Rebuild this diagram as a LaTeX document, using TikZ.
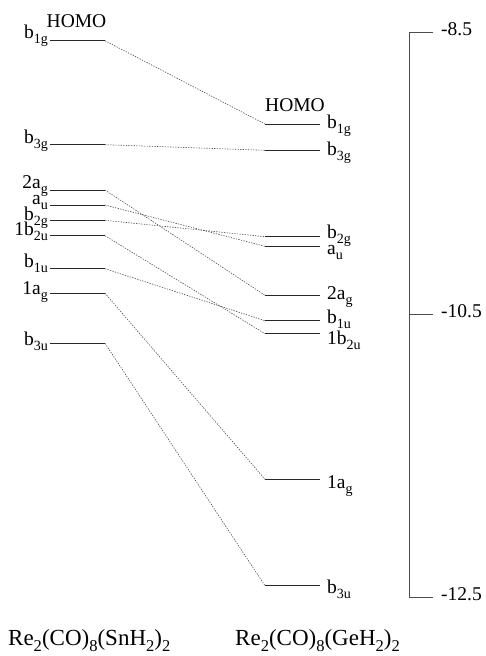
\documentclass[tikz,border=0pt]{standalone}
\usepackage{fontspec}
\usepackage{graphicx}
\setmainfont{Liberation Serif}
% lowered, reduced subscript used in the orbital labels
\newcommand{\lowsub}[1]{\raisebox{-0.28em}{\scalebox{0.72}{#1}}}
\tikzset{
  level/.style={line width=0.9pt, black!85},
  link/.style={line width=0.6pt, black!70, dash pattern=on 1.3pt off 1.3pt},
  axisline/.style={line width=0.9pt, black!70},
  lbl/.style={inner sep=0pt, font=\fontsize{19.5}{22}\selectfont},
  llbl/.style={lbl, anchor=base east},
  rlbl/.style={lbl, anchor=base west},
  molname/.style={inner sep=0pt, anchor=base west, font=\fontsize{23}{26}\selectfont},
}
\begin{document}
\begin{tikzpicture}[x=1pt, y=-1pt]
\useasboundingbox (0,0) rectangle (485,656);

% Re2(CO)8(SnH2)2 levels (left column)
\foreach \n/\yy in {b1g/40.7, b3g/144.7, 2ag/190, au/205, b2g/220.3, 1b2u/235.7, b1u/268.7, 1ag/293.3, b3u/343.3}{
  \coordinate (L-\n-a) at (50,\yy);
  \coordinate (L-\n-b) at (105,\yy);
  \draw[level] (L-\n-a) -- (L-\n-b);
}
% Re2(CO)8(GeH2)2 levels (right column)
\foreach \n/\yy in {b1g/124, b3g/150.3, b2g/236.7, au/246.3, 2ag/295.3, b1u/320.7, 1b2u/333.7, 1ag/479.3, b3u/585.7}{
  \coordinate (R-\n-a) at (265,\yy);
  \coordinate (R-\n-b) at (320,\yy);
  \draw[level] (R-\n-a) -- (R-\n-b);
}
% correlation lines
\foreach \n in {b1g, b3g, 2ag, au, b2g, 1b2u, b1u, 1ag, b3u}{
  \draw[link] (L-\n-b) -- (R-\n-a);
}

% left labels
\node[llbl] (lt-b1g)  at (48,38)  {b\lowsub{1g}};
\node[llbl] (lt-b3g)  at (48,143) {b\lowsub{3g}};
\node[llbl] (lt-2ag)  at (48,188.5) {2a\lowsub{g}};
\node[llbl] (lt-au)   at (48,204) {a\lowsub{u}};
\node[llbl] (lt-b2g)  at (48,220) {b\lowsub{2g}};
\node[llbl] (lt-1b2u) at (48,235.5) {1b\lowsub{2u}};
\node[llbl] (lt-b1u)  at (48,267) {b\lowsub{1u}};
\node[llbl] (lt-1ag)  at (48,294) {1a\lowsub{g}};
\node[llbl] (lt-b3u)  at (48,345) {b\lowsub{3u}};
\node[lbl, anchor=base west] (lt-homo) at (46.5,27) {HOMO};

% right labels
\node[rlbl] (rt-b1g)  at (327,128.5) {b\lowsub{1g}};
\node[rlbl] (rt-b3g)  at (327,155)   {b\lowsub{3g}};
\node[rlbl] (rt-b2g)  at (327,238.5) {b\lowsub{2g}};
\node[rlbl] (rt-au)   at (327,254)   {a\lowsub{u}};
\node[rlbl] (rt-2ag)  at (327,299.5) {2a\lowsub{g}};
\node[rlbl] (rt-b1u)  at (327,323.5) {b\lowsub{1u}};
\node[rlbl] (rt-1b2u) at (327,344)   {1b\lowsub{2u}};
\node[rlbl] (rt-1ag)  at (327,488)   {1a\lowsub{g}};
\node[rlbl] (rt-b3u)  at (327,593)   {b\lowsub{3u}};
\node[lbl, anchor=base west] (rt-homo) at (265,111) {HOMO};

% energy scale
\coordinate (s-top-a) at (433,32.5);
\coordinate (s-top)   at (409,32.5);
\coordinate (s-mid-a) at (433,314.5);
\coordinate (s-mid)   at (409,314.5);
\coordinate (s-bot)   at (409,597);
\coordinate (s-bot-a) at (433,597);
\draw[axisline] (s-top-a) -- (s-top) -- (s-bot) -- (s-bot-a);
\draw[axisline] (s-mid) -- (s-mid-a);
\node[rlbl] (t1) at (441,35)  {-8.5};
\node[rlbl] (t2) at (441,317) {-10.5};
\node[rlbl] (t3) at (441,600) {-12.5};

% molecule names
\node[molname] (m1) at (8,645)   {Re\lowsub{2}(CO)\lowsub{8}(SnH\lowsub{2})\lowsub{2}};
\node[molname] (m2) at (235,645) {Re\lowsub{2}(CO)\lowsub{8}(GeH\lowsub{2})\lowsub{2}};
\end{tikzpicture}
\end{document}
